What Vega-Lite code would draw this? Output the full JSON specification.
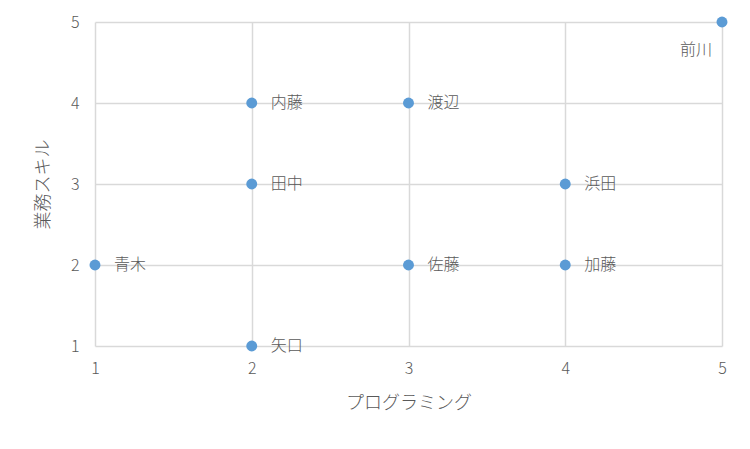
{
  "$schema": "https://vega.github.io/schema/vega-lite/v6.json",
  "width": 627,
  "height": 324,
  "autosize": "none",
  "padding": {"left": 95, "top": 22, "right": 28, "bottom": 103},
  "background": "white",
  "config": {
    "view": {"stroke": null},
    "font": "Noto Sans CJK JP",
    "axis": {
      "gridColor": "#d9d9d9",
      "gridWidth": 1.5,
      "domain": false,
      "ticks": false,
      "labelFlush": false,
      "labelColor": "#595959",
      "labelFontSize": 16,
      "labelFontWeight": 300,
      "titleColor": "#595959",
      "titleFontSize": 18,
      "titleFontWeight": 300
    }
  },
  "data": {
    "values": [
      {"name": "青木", "prog": 1, "skill": 2},
      {"name": "内藤", "prog": 2, "skill": 4},
      {"name": "田中", "prog": 2, "skill": 3},
      {"name": "矢口", "prog": 2, "skill": 1},
      {"name": "渡辺", "prog": 3, "skill": 4},
      {"name": "佐藤", "prog": 3, "skill": 2},
      {"name": "浜田", "prog": 4, "skill": 3},
      {"name": "加藤", "prog": 4, "skill": 2},
      {"name": "前川", "prog": 5, "skill": 5}
    ]
  },
  "encoding": {
    "x": {
      "field": "prog",
      "type": "quantitative",
      "title": "プログラミング",
      "scale": {"domain": [1, 5], "nice": false, "zero": false},
      "axis": {"values": [1, 2, 3, 4, 5], "labelPadding": 14, "titlePadding": 18}
    },
    "y": {
      "field": "skill",
      "type": "quantitative",
      "title": "業務スキル",
      "scale": {"domain": [1, 5], "nice": false, "zero": false},
      "axis": {"values": [1, 2, 3, 4, 5], "labelPadding": 16, "titlePadding": 18}
    }
  },
  "layer": [
    {
      "mark": {"type": "circle", "color": "#5b9bd5", "opacity": 1, "size": 120}
    },
    {
      "transform": [{"filter": "datum.name != '前川'"}],
      "mark": {"type": "text", "align": "left", "baseline": "middle", "dx": 19, "fontSize": 16, "fontWeight": 300, "color": "#595959"},
      "encoding": {"text": {"field": "name"}}
    },
    {
      "transform": [{"filter": "datum.name == '前川'"}],
      "mark": {"type": "text", "align": "right", "baseline": "middle", "dx": -10, "dy": 28, "fontSize": 16, "fontWeight": 300, "color": "#595959"},
      "encoding": {"text": {"field": "name"}}
    }
  ]
}
